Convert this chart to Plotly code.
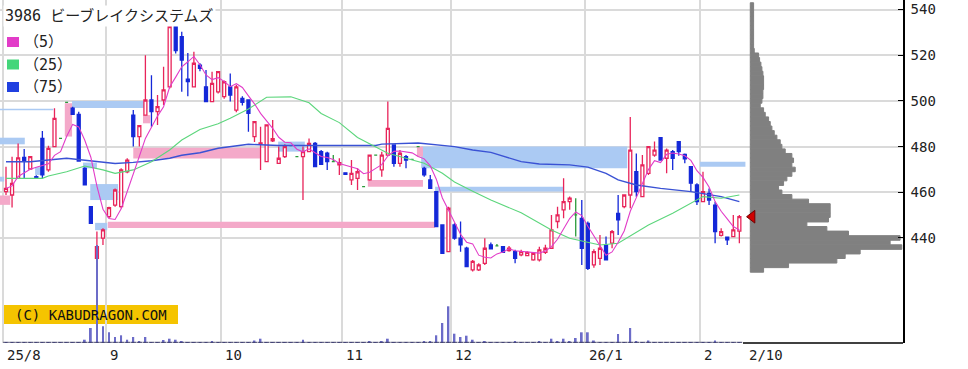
import plotly.graph_objects as go
import pandas as pd

# ---------------- data ----------------
opens = [460.3, 458.8, 466.1, 475.3, 470.2, 466.8, 483.6, 469.8, 480.0, 483.6,
         499.4, 496.8, 494.1, 470.5, 453.7, 431.1, 439.9, 449.3, 454.4, 453.7,
         469.0, 493.8, 484.4, 493.8, 500.4, 495.3, 500.4, 506.2, 532.5, 528.1,
         509.5, 506.2, 515.7, 506.2, 499.7, 504.0, 501.9, 506.2, 496.0, 501.1,
         500.4, 484.4, 481.2, 473.4, 482.5, 472.7, 475.6, 480.4, 475.6, 475.6,
         477.8, 481.4, 477.8, 477.1, 473.4, 472.0, 468.5, 465.4, 466.1, 462.5,
         465.4, 476.3, 469.8, 476.3, 480.7, 472.7, 475.6, 474.4, 480.0, 470.5,
         465.4, 460.3, 445.7, 434.0, 445.7, 439.9, 435.5, 426.0, 426.0, 428.9,
         437.0, 436.5, 436.2, 434.5, 434.0, 432.6, 432.3, 430.4, 430.4, 433.7,
         435.5, 447.2, 452.3, 455.9, 450.1, 448.6, 446.4, 428.2, 431.1, 436.9,
         437.7, 450.8, 453.7, 458.8, 469.0, 458.1, 468.3, 476.3, 483.9, 474.9,
         477.8, 482.2, 476.6, 471.2, 463.2, 455.9, 459.5, 454.4, 441.1, 440.4,
         440.6, 443.0]
highs = [471.2, 475.6, 481.4, 479.0, 475.6, 467.5, 486.8, 480.4, 496.8, 483.8,
         499.6, 497.5, 495.3, 471.0, 453.7, 442.8, 444.2, 453.7, 461.7, 470.5,
         474.9, 496.0, 489.5, 520.0, 511.3, 502.6, 515.0, 541.0, 533.0, 530.3,
         521.0, 521.5, 516.5, 513.5, 512.8, 512.8, 509.0, 512.0, 507.0, 502.0,
         500.4, 491.0, 488.7, 489.5, 491.6, 480.0, 481.0, 480.6, 475.8, 480.0,
         483.6, 482.0, 478.5, 477.8, 476.3, 474.9, 468.6, 474.1, 470.5, 462.7,
         476.5, 476.5, 477.8, 499.7, 481.0, 478.5, 476.3, 474.6, 480.2, 471.2,
         467.6, 460.3, 446.0, 453.7, 446.4, 447.2, 436.2, 430.4, 428.9, 439.9,
         438.0, 437.3, 436.5, 436.5, 434.8, 434.8, 434.2, 433.7, 436.2, 437.0,
         450.1, 453.7, 466.1, 458.1, 457.4, 456.6, 447.2, 435.0, 441.3, 440.6,
         443.5, 458.8, 459.0, 493.0, 477.0, 476.3, 480.0, 482.2, 484.0, 479.2,
         478.5, 482.5, 477.0, 471.2, 463.9, 469.0, 461.7, 455.9, 444.2, 440.6,
         450.1, 450.1]
lows = [458.8, 453.3, 466.1, 466.1, 470.2, 466.0, 466.1, 469.0, 480.0, 483.4,
        499.2, 494.0, 473.4, 463.2, 446.4, 429.6, 436.9, 448.6, 453.7, 453.0,
        468.3, 480.0, 480.0, 493.8, 488.7, 489.5, 498.2, 505.5, 520.8, 504.0,
        502.0, 506.2, 513.0, 499.7, 499.7, 503.3, 501.0, 499.7, 495.0, 498.0,
        486.5, 482.0, 469.8, 473.4, 482.0, 472.7, 475.0, 480.2, 475.4, 456.6,
        477.8, 471.0, 472.0, 469.8, 473.2, 467.6, 467.7, 463.2, 461.0, 462.3,
        465.0, 476.1, 466.8, 476.3, 471.2, 471.2, 470.5, 474.2, 479.8, 466.8,
        461.7, 445.0, 433.3, 434.0, 439.2, 434.0, 427.5, 425.3, 425.5, 428.2,
        435.0, 436.3, 433.5, 434.0, 428.9, 432.0, 432.0, 430.0, 429.7, 433.0,
        435.5, 444.2, 448.6, 452.3, 440.6, 428.2, 426.0, 427.0, 428.2, 430.4,
        435.5, 441.3, 453.0, 453.0, 458.0, 458.1, 467.6, 475.6, 474.0, 468.3,
        469.8, 476.0, 472.7, 460.3, 454.4, 455.9, 454.4, 437.7, 440.6, 436.9,
        440.6, 437.7]
closes = [461.7, 463.9, 475.1, 474.0, 475.6, 466.1, 467.6, 479.2, 492.4, 483.6,
          499.4, 494.1, 473.7, 463.2, 446.4, 436.2, 443.5, 453.3, 461.0, 469.8,
          474.1, 484.4, 489.2, 500.4, 495.3, 497.5, 504.8, 532.5, 522.0, 517.9,
          508.5, 516.5, 514.3, 499.7, 507.7, 512.8, 508.4, 502.6, 506.2, 499.4,
          494.6, 490.9, 481.6, 489.5, 483.5, 474.9, 480.0, 480.4, 475.6, 477.8,
          481.4, 471.2, 472.2, 473.4, 473.4, 473.0, 467.8, 468.3, 469.0, 462.5,
          476.3, 476.3, 476.3, 488.0, 472.7, 477.1, 474.1, 474.4, 480.0, 467.6,
          461.7, 445.0, 433.3, 453.0, 439.9, 437.0, 427.5, 429.7, 428.2, 435.5,
          435.2, 436.5, 433.7, 435.5, 431.1, 434.0, 433.7, 433.3, 434.8, 435.5,
          443.5, 450.1, 455.9, 457.4, 450.1, 435.5, 426.7, 434.0, 435.5, 430.4,
          442.8, 447.9, 458.8, 478.5, 460.3, 472.0, 480.0, 478.5, 474.1, 478.5,
          474.9, 477.8, 474.6, 464.0, 455.9, 460.3, 456.6, 442.8, 442.8, 439.2,
          443.5, 449.3]
volumes = [1, 1, 1, 1, 1, 1, 1, 1, 1, 1,
           1, 1, 1, 3.3, 15, 98, 16.7, 10.7, 6, 7.7,
           3.3, 6, 1.7, 6, 1, 1, 3, 4.3, 3.3, 1.5,
           1, 1, 1, 1, 1.5, 1, 1, 1, 1, 1,
           1, 2.5, 4.3, 1, 1, 1, 1, 1, 1, 3.3,
           1, 1, 1, 1, 1, 1, 1, 1, 1, 1,
           1.5, 1, 2, 4.3, 1, 1, 1, 1, 1, 1.5,
           2, 7.7, 20, 36.7, 9.3, 6, 7.3, 3.3, 1, 2,
           1, 1, 1, 1, 1.5, 1, 1, 1, 1.5, 1,
           4.3, 2, 4.3, 2, 5, 10.7, 10.7, 2.5, 1, 1,
           1, 9, 1, 15, 2, 1, 2.5, 1, 1, 1,
           1, 1, 1, 1, 1, 1, 1, 2.5, 1, 1,
           1, 1]

month_start = [0, 17, 36, 56, 74, 96, 115]
month_labels = ["25/8", "9", "10", "11", "12", "26/1", "2"]
last_label = "2/10"

ma25_idx = [0, 6, 7, 10, 13, 16, 18, 21, 24, 27, 29, 32, 35, 37, 40, 43, 47, 50,
            52, 55, 58, 61, 63, 66, 69, 72, 74, 77, 80, 85, 90, 93, 98, 101, 106,
            110, 113, 115, 118, 121]
ma25_val = [466.1, 466.1, 467.1, 469.0, 471.5, 469.8, 468.3, 469.8, 473.4, 478.5,
            482.9, 487.5, 490.0, 492.4, 496.5, 501.6, 501.8, 499.2, 494.5, 490.5,
            484.0, 480.0, 477.1, 474.9, 472.7, 468.3, 464.5, 460.5, 456.6, 451.0,
            443.5, 439.9, 436.9, 437.7, 445.7, 450.8, 455.2, 458.1, 457.4, 458.8]
ma75_idx = [0, 4, 10, 13, 16, 18, 21, 24, 27, 29, 32, 35, 40, 45, 61, 62, 68, 72,
            74, 77, 80, 85, 88, 93, 96, 99, 101, 104, 108, 113, 118, 121]
ma75_val = [473.4, 473.4, 474.9, 474.1, 473.1, 472.6, 473.1, 473.8, 474.9, 476.2,
            477.3, 479.3, 481.0, 480.5, 480.5, 481.1, 481.6, 480.7, 480.0, 478.5,
            477.5, 473.4, 472.4, 472.0, 471.0, 468.3, 465.4, 463.2, 461.7, 460.3,
            458.1, 455.9]

# price-volume profile (2-yen bins)
profile_price = [542, 540, 538, 536, 534, 532, 530, 528, 526, 524,
                 522, 520, 518, 516, 514, 512, 510, 508, 506, 504,
                 502, 500, 498, 496, 494, 492, 490, 488, 486, 484,
                 482, 480, 478, 476, 474, 472, 470, 468, 466, 464,
                 462, 460, 458, 456, 454, 452, 450, 448, 446, 444,
                 442, 440, 438, 436, 434, 432, 430, 428, 426]
profile_vol = [10, 10, 10, 10, 10, 10, 10, 10, 10, 10,
               12, 25, 28, 32, 35, 38, 40, 40, 40, 38,
               38, 35, 30, 40, 45, 55, 60, 65, 72, 80,
               90, 95, 105, 125, 130, 125, 135, 125, 110, 100,
               85, 95, 125, 175, 240, 240, 240, 235, 170, 230,
               295, 450, 420, 455, 330, 285, 260, 115, 40]

# open price-gap windows (start day, end day, low, high)
blue_x0 = [-1.0, -1.0, -1.0, 4.8, 10.9, 12.7, 13.9, 14.7, 44.9, 68.5, 70.8, 114.5]
blue_x1 = [3.1, 7.8, -0.3, 5.9, 22.9, 15.0, 18.5, 16.7, 49.3, 102.5, 92.0, 122.0]
blue_lo = [481.0, 495.9, 464.7, 467.6, 496.9, 470.5, 456.6, 443.4, 477.8, 470.5, 460.3, 471.2]
blue_hi = [483.9, 496.6, 466.8, 471.0, 500.0, 473.0, 463.6, 446.6, 482.2, 480.0, 462.4, 473.4]
pink_x0 = [-1.0, 9.7, 22.6, 21.0, 16.8, 59.7, 67.8]
pink_x1 = [0.7, 10.9, 23.8, 41.9, 70.8, 68.8, 68.8]
pink_lo = [454.5, 484.4, 490.2, 474.8, 444.4, 462.4, 475.6]
pink_hi = [458.6, 499.0, 493.8, 479.5, 447.1, 465.4, 480.0]

title_text = "3986 ビーブレイクシステムズ"
ma_labels = ["（5）", "（25）", "（75）"]
copyright_text = "(C) KABUDRAGON.COM"

# ---------------- styling ----------------
C_UP = "#e8245a"
C_DN = "#1428d8"
C_DOJI = "#2a9a3a"
C_MA5 = "#e23cc8"
C_MA25 = "#5cd67c"
C_MA75 = "#3a52d4"
C_BLUE_BAND = "#abcaf3"
C_PINK_BAND = "#f4a9c9"
C_PROF = "#808080"
GRID = "#dadada"
FONT = "DejaVu Sans Mono, Noto Sans CJK JP"

PW, PH = 903, 343          # plot area in pixels
X_LO, X_HI = -0.99, 148.0  # index range shown
Y_LO, Y_HI = 394.0, 544.2


def px(x):
    return x / PW


def py(y):
    return 1 - y / PH


N = len(closes)
idx = list(range(N))
ma5 = pd.Series(closes).rolling(5, min_periods=1).mean().tolist()

up = [i for i in idx if closes[i] > opens[i]]
dn = [i for i in idx if closes[i] < opens[i]]
dj = [i for i in idx if closes[i] == opens[i]]


def sel(arr, ids):
    return [arr[i] for i in ids]


fig = go.Figure()

# volume
fig.add_trace(go.Bar(x=idx, y=volumes, width=0.3, marker_color="#6c6cc8",
                     marker_line_width=0, yaxis="y2", hoverinfo="skip"))
fig.add_trace(go.Scatter(x=idx, y=[0.7] * N, mode="markers", yaxis="y2",
                         marker=dict(symbol="line-ew", size=4,
                                     line=dict(width=1, color="#3c3c64")),
                         cliponaxis=False, hoverinfo="skip"))

# volume-at-price profile
prof_base = N + 0.8
prof_scale = 25.0 / max(profile_vol)
fig.add_trace(go.Bar(y=profile_price, x=[v * prof_scale for v in profile_vol],
                     base=prof_base, orientation="h", width=2,
                     marker=dict(color=C_PROF, line=dict(color=C_PROF, width=1)),
                     hoverinfo="skip"))

# moving averages
fig.add_trace(go.Scatter(x=ma75_idx, y=ma75_val, mode="lines",
                         line=dict(color=C_MA75, width=1.4)))
fig.add_trace(go.Scatter(x=ma25_idx, y=ma25_val, mode="lines",
                         line=dict(color=C_MA25, width=1.1)))
fig.add_trace(go.Scatter(x=idx, y=ma5, mode="lines",
                         line=dict(color=C_MA5, width=1.1)))

# candles
for ids, lc, fc in [(up, C_UP, "white"), (dn, C_DN, C_DN), (dj, C_DOJI, C_DOJI)]:
    fig.add_trace(go.Candlestick(
        x=ids, open=sel(opens, ids), high=sel(highs, ids),
        low=sel(lows, ids), close=sel(closes, ids),
        increasing=dict(line=dict(color=lc, width=1.3), fillcolor=fc),
        decreasing=dict(line=dict(color=lc, width=1.3), fillcolor=fc),
        whiskerwidth=0, hoverinfo="skip"))

# last price marker
fig.add_trace(go.Scatter(x=[prof_base + 0.3], y=[closes[-1]], mode="markers",
                         marker=dict(symbol="triangle-left", size=11, color="#d00000",
                                     line=dict(color="#700000", width=1)),
                         cliponaxis=False))

shapes = []
for x0, x1, lo, hi in zip(blue_x0, blue_x1, blue_lo, blue_hi):
    shapes.append(dict(type="rect", xref="x", yref="y", x0=x0, x1=x1, y0=lo, y1=hi,
                       fillcolor=C_BLUE_BAND, line=dict(width=0), layer="between"))
for x0, x1, lo, hi in zip(pink_x0, pink_x1, pink_lo, pink_hi):
    shapes.append(dict(type="rect", xref="x", yref="y", x0=x0, x1=x1, y0=lo, y1=hi,
                       fillcolor=C_PINK_BAND, line=dict(width=0), layer="between"))
# white box behind legend rows
shapes.append(dict(type="rect", xref="paper", yref="paper", x0=0, x1=px(70),
                   y0=py(96), y1=py(27), fillcolor="white", line=dict(width=0),
                   layer="between"))
# legend squares
for k, col in enumerate([C_MA5, "#44d67a", "#2040e0"]):
    yc = 42 + k * 22.5
    shapes.append(dict(type="rect", xref="paper", yref="paper", x0=px(7), x1=px(19),
                       y0=py(yc + 5), y1=py(yc - 5), fillcolor=col,
                       line=dict(width=0), layer="above"))
# copyright box
shapes.append(dict(type="rect", xref="paper", yref="paper", x0=px(4), x1=px(178),
                   y0=py(324), y1=py(305), fillcolor="#f5c400", line=dict(width=0),
                   layer="between"))
# bottom axis line under the profile
shapes.append(dict(type="line", xref="x", yref="paper", x0=N - 0.4, x1=X_HI,
                   y0=0, y1=0, line=dict(color="black", width=1.5), layer="above"))

annotations = []
annotations.append(dict(xref="paper", yref="paper", x=px(3), y=py(16), xanchor="left",
                        yanchor="middle", text=title_text, showarrow=False,
                        bgcolor="white", font=dict(size=15, color="#222", family=FONT)))
for k, lab in enumerate(ma_labels):
    annotations.append(dict(xref="paper", yref="paper", x=px(22), y=py(42 + k * 22.5),
                            xanchor="left", yanchor="middle", text=lab, showarrow=False,
                            font=dict(size=15, color="#222", family=FONT)))
annotations.append(dict(xref="paper", yref="paper", x=px(91), y=py(314.5),
                        xanchor="center", yanchor="middle", text=copyright_text,
                        showarrow=False, font=dict(size=14, color="#111", family=FONT)))
for m, lab in zip(month_start, month_labels):
    annotations.append(dict(xref="x", yref="paper", x=m - 0.5, y=0, xanchor="left",
                            yanchor="middle", yshift=-12, xshift=2, text=lab,
                            showarrow=False, font=dict(size=14, color="#222", family=FONT)))
annotations.append(dict(xref="x", yref="paper", x=N - 1, y=0, xanchor="left",
                        yanchor="middle", yshift=-12, xshift=8, text=last_label,
                        showarrow=False, font=dict(size=14, color="#222", family=FONT)))

fig.update_layout(
    width=968, height=369,
    margin=dict(l=0, r=65, t=0, b=26),
    paper_bgcolor="white", plot_bgcolor="white",
    showlegend=False, barmode="overlay", boxgap=0.3,
    font=dict(family=FONT),
    shapes=shapes, annotations=annotations,
    xaxis=dict(range=[X_LO, X_HI], tickvals=[m - 0.5 for m in month_start],
               showticklabels=False, showgrid=True, gridcolor=GRID, gridwidth=1.5,
               zeroline=False, showline=False, ticks="",
               rangeslider=dict(visible=False)),
    yaxis=dict(range=[Y_LO, Y_HI], side="right", tickvals=[440, 460, 480, 500, 520, 540],
               showgrid=True, gridcolor=GRID, gridwidth=1.5, zeroline=False,
               ticks="inside", ticklen=5, tickcolor="black", tickwidth=1,
               showline=True, linecolor="black", linewidth=1.5,
               tickfont=dict(size=14, color="#222", family=FONT),
               ticklabelstandoff=3),
    yaxis2=dict(overlaying="y", range=[0, PH], visible=False, fixedrange=True),
)

fig.write_html("out.html", config={"displayModeBar": False})
